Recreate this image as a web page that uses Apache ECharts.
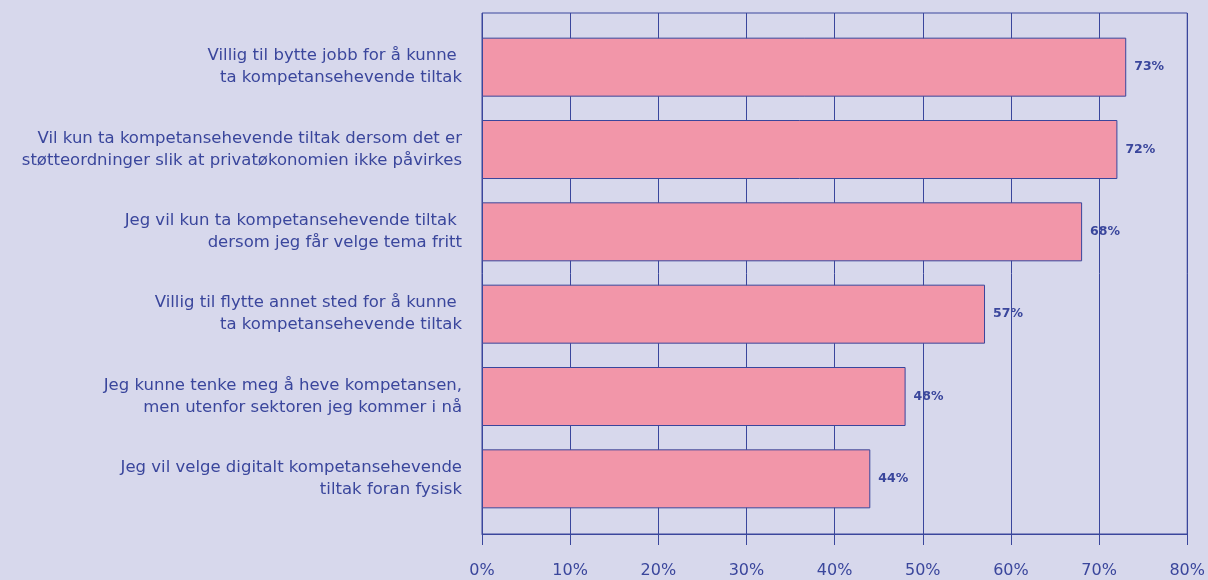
<!DOCTYPE html>
<html>
<head>
<meta charset="utf-8">
<script src="https://cdn.jsdelivr.net/npm/echarts@6/dist/echarts.min.js"></script>
<style>
  html, body { margin: 0; padding: 0; background: #d7d8ec; }
  #chart { width: 1208px; height: 580px; }
</style>
</head>
<body>
<div id="chart"></div>
<script>
// utsagn (kategorier) og andel som svarte ja
var categories = [
    'Villig til bytte jobb for å kunne \nta kompetansehevende tiltak',
    'Vil kun ta kompetansehevende tiltak dersom det er\nstøtteordninger slik at privatøkonomien ikke påvirkes',
    'Jeg vil kun ta kompetansehevende tiltak \ndersom jeg får velge tema fritt',
    'Villig til flytte annet sted for å kunne \nta kompetansehevende tiltak',
    'Jeg kunne tenke meg å heve kompetansen,\nmen utenfor sektoren jeg kommer i nå',
    'Jeg vil velge digitalt kompetansehevende\ntiltak foran fysisk'
];
var values = [73, 72, 68, 57, 48, 44];
var xMax = 80;
var xStep = 10;

var blue = '#3a469c';
var chart = echarts.init(document.getElementById('chart'));
var option = {
    backgroundColor: '#d7d8ec',
    animation: false,
    textStyle: { fontFamily: 'DejaVu Sans' },
    grid: [
        {   // ramme + x-akse
            left: 482, right: 20, top: 13, bottom: 46,
            show: true,
            borderColor: blue,
            borderWidth: 1,
            backgroundColor: 'transparent'
        },
        {   // stolpene
            left: 482, right: 20, top: 26, bottom: 60
        }
    ],
    xAxis: [
        {
            gridIndex: 0,
            type: 'value',
            min: 0,
            max: xMax,
            interval: xStep,
            axisLine: { show: true, lineStyle: { color: blue, width: 1 } },
            axisTick: { show: true, length: 11, inside: false, lineStyle: { color: blue } },
            splitLine: { show: true, lineStyle: { color: blue, width: 1 } },
            axisLabel: {
                color: blue,
                fontSize: 16,
                margin: 29,
                formatter: '{value}%'
            }
        },
        {
            gridIndex: 1,
            type: 'value',
            min: 0,
            max: xMax,
            show: false
        }
    ],
    yAxis: [
        {
            gridIndex: 0,
            type: 'category',
            data: [''],
            show: false
        },
        {
            gridIndex: 1,
            type: 'category',
            inverse: true,
            data: categories,
            axisLine: { show: false },
            axisTick: { show: false },
            axisLabel: {
                color: blue,
                fontSize: 16.5,
                lineHeight: 22,
                margin: 20
            }
        }
    ],
    series: [
        {
            type: 'bar',
            xAxisIndex: 1,
            yAxisIndex: 1,
            data: values,
            barWidth: 59,
            itemStyle: {
                color: '#f296a9',
                borderColor: blue,
                borderWidth: 1
            },
            label: {
                show: true,
                position: 'right',
                distance: 8,
                color: blue,
                fontSize: 12.5,
                fontWeight: 'bold',
                formatter: '{c}%'
            }
        }
    ]
};
chart.setOption(option);
</script>
</body>
</html>
